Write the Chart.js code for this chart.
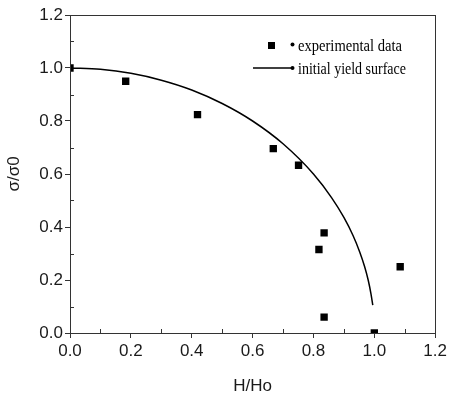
<!DOCTYPE html>
<html>
<head>
<meta charset="utf-8">
<script src="https://cdn.jsdelivr.net/npm/chart.js@4"></script>
<style>
  html, body { margin: 0; padding: 0; background: #fff; }
  #wrap { width: 450px; height: 400px; }
</style>
</head>
<body>
<div id="wrap"><canvas id="yieldChart"></canvas></div>
<script>
// measured points
const expX = [0.0, 0.183, 0.419, 0.668, 0.751, 0.835, 0.818, 1.085, 0.835, 1.0];
const expY = [1.0, 0.95, 0.824, 0.696, 0.633, 0.378, 0.315, 0.25, 0.06, 0.0];

// yield surface curve
const curveX = [0, 0.1, 0.2, 0.3, 0.4, 0.5, 0.6, 0.7, 0.8, 0.86, 0.9, 0.93, 0.952, 0.968, 0.98, 0.989, 0.995];
const curveY = [1.0, 0.995, 0.98, 0.954, 0.917, 0.866, 0.80, 0.714, 0.60, 0.51, 0.436, 0.368, 0.306, 0.251, 0.199, 0.148, 0.105];

const xTicks = [0, 0.2, 0.4, 0.6, 0.8, 1.0, 1.2];
const yTicks = [0, 0.2, 0.4, 0.6, 0.8, 1.0, 1.2];
const xMinor = [0.1, 0.3, 0.5, 0.7, 0.9, 1.1];
const yMinor = [0.1, 0.3, 0.5, 0.7, 0.9, 1.1];

const legendItems = ['experimental data', 'initial yield surface'];

const axisColor = '#333';
const textColor = '#1a1a1a';

// frame, inward minor ticks
const framePlugin = {
  id: 'frame',
  afterDatasetsDraw(chart) {
    const { ctx, chartArea: a, scales } = chart;
    ctx.save();
    ctx.strokeStyle = axisColor;
    ctx.lineWidth = 1;
    ctx.strokeRect(Math.round(a.left) + 0.5, Math.round(a.top) + 0.5,
      Math.round(a.right - a.left), Math.round(a.bottom - a.top));
    ctx.beginPath();
    xMinor.forEach(v => {
      const px = Math.round(scales.x.getPixelForValue(v)) + 0.5;
      ctx.moveTo(px, a.bottom);
      ctx.lineTo(px, a.bottom - 4);
    });
    yMinor.forEach(v => {
      const py = Math.round(scales.y.getPixelForValue(v)) + 0.5;
      ctx.moveTo(a.left, py);
      ctx.lineTo(a.left + 4, py);
    });
    ctx.stroke();
    ctx.restore();
  }
};

// legend drawn inside the plot
const legendPlugin = {
  id: 'innerLegend',
  afterDraw(chart) {
    const { ctx } = chart;
    ctx.save();
    ctx.fillStyle = '#000';
    ctx.strokeStyle = '#000';
    // square marker
    ctx.fillRect(268, 42, 7, 7);
    ctx.beginPath();
    ctx.arc(292.5, 44.5, 2, 0, Math.PI * 2);
    ctx.fill();
    // line marker
    ctx.lineWidth = 1.5;
    ctx.beginPath();
    ctx.moveTo(253, 68);
    ctx.lineTo(291, 68);
    ctx.stroke();
    ctx.beginPath();
    ctx.arc(292.5, 68, 2, 0, Math.PI * 2);
    ctx.fill();

    ctx.font = '16px "Liberation Serif", "Times New Roman", serif';
    ctx.textBaseline = 'alphabetic';
    ctx.textAlign = 'left';
    ctx.fillText(legendItems[0], 298, 51, 104);
    ctx.fillText(legendItems[1], 298, 74, 108);
    ctx.restore();
  }
};

const ctx = document.getElementById('yieldChart').getContext('2d');
const chart = new Chart(ctx, {
  type: 'scatter',
  data: {
    datasets: [
      {
        label: legendItems[0],
        data: expX.map((x, i) => ({ x: x, y: expY[i] })),
        pointStyle: 'rect',
        pointRadius: 5.2,
        pointBackgroundColor: '#000',
        pointBorderWidth: 0,
        clip: 0
      },
      {
        label: legendItems[1],
        data: curveX.map((x, i) => ({ x: x, y: curveY[i] })),
        showLine: true,
        pointRadius: 0,
        borderColor: '#000',
        borderWidth: 1.5,
        cubicInterpolationMode: 'monotone',
        clip: 0
      }
    ]
  },
  options: {
    responsive: true,
    maintainAspectRatio: false,
    animation: false,
    layout: {
      padding: { top: 15, right: 12, left: 0, bottom: 0 }
    },
    plugins: {
      legend: { display: false },
      tooltip: { enabled: false }
    },
    scales: {
      x: {
        type: 'linear',
        min: 0,
        max: 1.2,
        afterBuildTicks: scale => { scale.ticks = xTicks.map(v => ({ value: v })); },
        afterFit: scale => { scale.height = 67; },
        ticks: {
          padding: 3,
          color: textColor,
          font: { family: '"Liberation Sans", Arial, sans-serif', size: 17 },
          callback: v => v.toFixed(1)
        },
        grid: {
          drawOnChartArea: false,
          drawTicks: true,
          tickLength: 5,
          color: axisColor
        },
        border: { display: true, color: axisColor, width: 1 },
        title: {
          display: true,
          text: 'H/Ho',
          color: textColor,
          padding: { top: 0, bottom: 3 },
          font: { family: '"Liberation Sans", Arial, sans-serif', size: 17 }
        }
      },
      y: {
        type: 'linear',
        min: 0,
        max: 1.2,
        afterBuildTicks: scale => { scale.ticks = yTicks.map(v => ({ value: v })); },
        afterFit: scale => { scale.width = 70; },
        ticks: {
          padding: 2,
          color: textColor,
          font: { family: '"Liberation Sans", Arial, sans-serif', size: 17 },
          callback: v => v.toFixed(1)
        },
        grid: {
          drawOnChartArea: false,
          drawTicks: true,
          tickLength: 5,
          color: axisColor
        },
        border: { display: true, color: axisColor, width: 1 },
        title: {
          display: true,
          text: 'σ/σ0',
          color: textColor,
          padding: { top: 4, bottom: 0 },
          font: { family: '"Liberation Sans", Arial, sans-serif', size: 17 }
        }
      }
    }
  },
  plugins: [framePlugin, legendPlugin]
});
</script>
</body>
</html>
